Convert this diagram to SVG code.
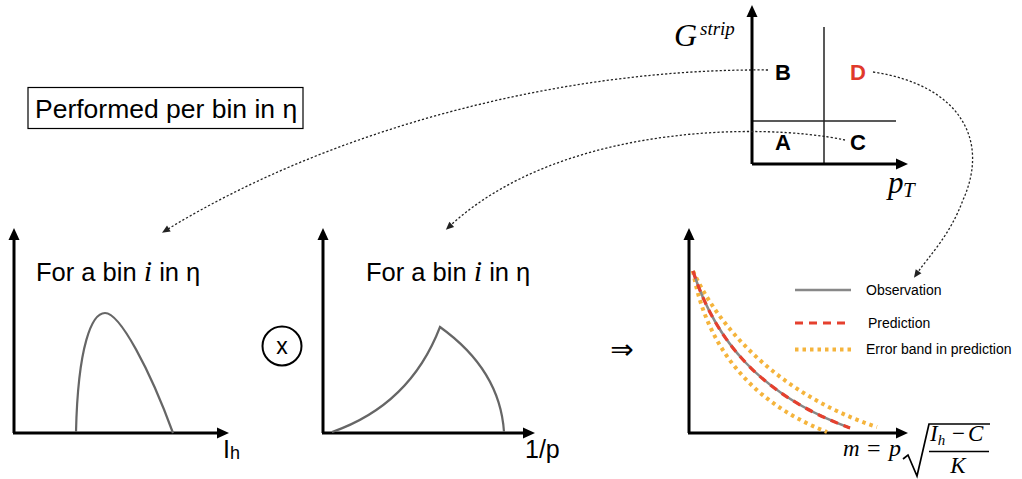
<svg xmlns="http://www.w3.org/2000/svg" width="1022" height="479" viewBox="0 0 1022 479">
  <defs>
    <marker id="axArrow" markerUnits="userSpaceOnUse" markerWidth="14" markerHeight="14" refX="2" refY="5.5" orient="auto" overflow="visible">
      <path d="M0,0 L12,5.5 L0,11 z" fill="#000"/>
    </marker>
    <marker id="dotArrow" markerUnits="userSpaceOnUse" markerWidth="10" markerHeight="10" refX="1" refY="3.5" orient="auto" overflow="visible">
      <path d="M0,0 L8,3.5 L0,7 z" fill="#222"/>
    </marker>
    <style>
      .axis{stroke:#000;stroke-width:3;fill:none;marker-end:url(#axArrow);}
      .div{stroke:#222;stroke-width:1.5;fill:none;}
      .curve{stroke:#666;stroke-width:2.2;fill:none;}
      .conn{stroke:#222;stroke-width:1.3;fill:none;stroke-dasharray:2.2 2;marker-end:url(#dotArrow);}
      .sans{font-family:"Liberation Sans",Arial,sans-serif;fill:#000;}
      .serif{font-family:"Liberation Serif","Times New Roman",serif;font-style:italic;fill:#000;}
      .rom{font-family:"Liberation Serif","Times New Roman",serif;fill:#000;}
      .bold{font-family:"Liberation Sans",Arial,sans-serif;font-weight:bold;font-size:22px;text-anchor:middle;}
      .obs{stroke:#888;stroke-width:2.5;fill:none;}
      .pred{stroke:#e5402e;stroke-width:3.2;fill:none;stroke-dasharray:8 6;}
      .err{stroke:#f5b43c;stroke-width:4;fill:none;stroke-dasharray:3.5 4;}
      .leg{font-family:"Liberation Sans",Arial,sans-serif;font-size:14px;fill:#000;}
    </style>
  </defs>
  <rect width="1022" height="479" fill="#fff"/>

  <g id="scope-label">
    <rect x="28" y="87.5" width="275" height="41" fill="none" stroke="#000" stroke-width="1.2"/>
    <text class="sans" x="35" y="118" font-size="26.5">Performed per bin in η</text>
  </g>

  <g id="abcd-plane">
    <line class="div" x1="824" y1="27" x2="824" y2="164"/>
    <line class="div" x1="752" y1="121" x2="896" y2="121"/>
    <line class="axis" x1="752" y1="164" x2="752" y2="15"/>
    <line class="axis" x1="752" y1="164" x2="898" y2="164"/>
    <text class="serif" x="674" y="46" font-size="32">G</text>
    <text class="serif" x="700" y="35" font-size="19">strip</text>
    <text class="serif" x="888" y="193" font-size="31">p</text>
    <text class="serif" x="903" y="197" font-size="21">T</text>
    <text class="bold" x="783" y="80">B</text>
    <text class="bold" x="858" y="80" fill="#e0392b">D</text>
    <text class="bold" x="783" y="150">A</text>
    <text class="bold" x="858" y="150">C</text>
  </g>

  <g id="plot-ih">
    <line class="axis" x1="14" y1="433" x2="14" y2="238"/>
    <line class="axis" x1="13" y1="433" x2="219" y2="433"/>
    <path class="curve" d="M76,432 C78,345 92,313 105,313 C120,313 150,370 173,433"/>
    <text class="sans" x="36" y="281" font-size="25.5">For a bin <tspan class="serif" font-size="30">i</tspan> in η</text>
    <text class="sans" x="223" y="458" font-size="25">I<tspan font-size="18" dy="1">h</tspan></text>
  </g>

  <g id="otimes">
    <circle cx="282" cy="346" r="19.5" fill="none" stroke="#000" stroke-width="2"/>
    <text class="sans" x="282" y="354" font-size="23" text-anchor="middle">x</text>
  </g>

  <g id="plot-invp">
    <line class="axis" x1="323" y1="433" x2="323" y2="238"/>
    <line class="axis" x1="322" y1="433" x2="525" y2="433"/>
    <path class="curve" d="M332,432 Q410,405 440,327 Q500,370 504,432"/>
    <text class="sans" x="366" y="281" font-size="25.5">For a bin <tspan class="serif" font-size="30">i</tspan> in η</text>
    <text class="sans" x="525" y="458" font-size="25">1/p</text>
  </g>

  <g id="implies">
    <text x="622" y="359" font-family="DejaVu Sans, sans-serif" font-size="28" text-anchor="middle">⇒</text>
  </g>

  <g id="plot-mass">
    <line class="axis" x1="689" y1="433" x2="689" y2="238"/>
    <line class="axis" x1="688" y1="433" x2="898" y2="433"/>
    <path class="err" d="M693,271 C720,330 780,395 877,427"/>
    <path class="err" d="M693,271 C705,340 745,400 827,432"/>
    <path class="obs" d="M693,271 C715,340 760,395 850,428"/>
    <path class="pred" d="M693,271 C715,340 760,395 850,428"/>
    <line class="obs" x1="795" y1="290" x2="851" y2="290"/>
    <text class="leg" x="866" y="295">Observation</text>
    <line class="pred" x1="795" y1="323" x2="851" y2="323" stroke-dasharray="9 6"/>
    <text class="leg" x="868" y="328">Prediction</text>
    <line class="err" x1="795" y1="349.5" x2="851" y2="349.5"/>
    <text class="leg" x="866" y="354">Error band in prediction</text>
    <text class="serif" x="843" y="456" font-size="23">m</text>
    <text class="rom" x="867" y="456" font-size="24">=</text>
    <text class="serif" x="889" y="456" font-size="24">p</text>
    <path d="M903,459 L908,455 L917,476 L929,424 L990,424" fill="none" stroke="#000" stroke-width="1.7"/>
    <text class="serif" x="930" y="441" font-size="23">I<tspan font-size="15" dy="4">h</tspan></text>
    <text class="rom" x="952" y="441" font-size="23">−</text>
    <text class="serif" x="968" y="441" font-size="23">C</text>
    <line x1="929" y1="451.5" x2="989" y2="451.5" stroke="#000" stroke-width="1.3"/>
    <text class="serif" x="958" y="473" font-size="23" text-anchor="middle">K</text>
  </g>

  <g id="connectors">
    <path class="conn" d="M768,70 C560,68 330,130 168,229"/>
    <path class="conn" d="M845,140 C760,122 560,125 451,225"/>
    <path class="conn" d="M873,72 C960,85 990,140 963,200 C950,235 930,255 918,272"/>
  </g>
</svg>
